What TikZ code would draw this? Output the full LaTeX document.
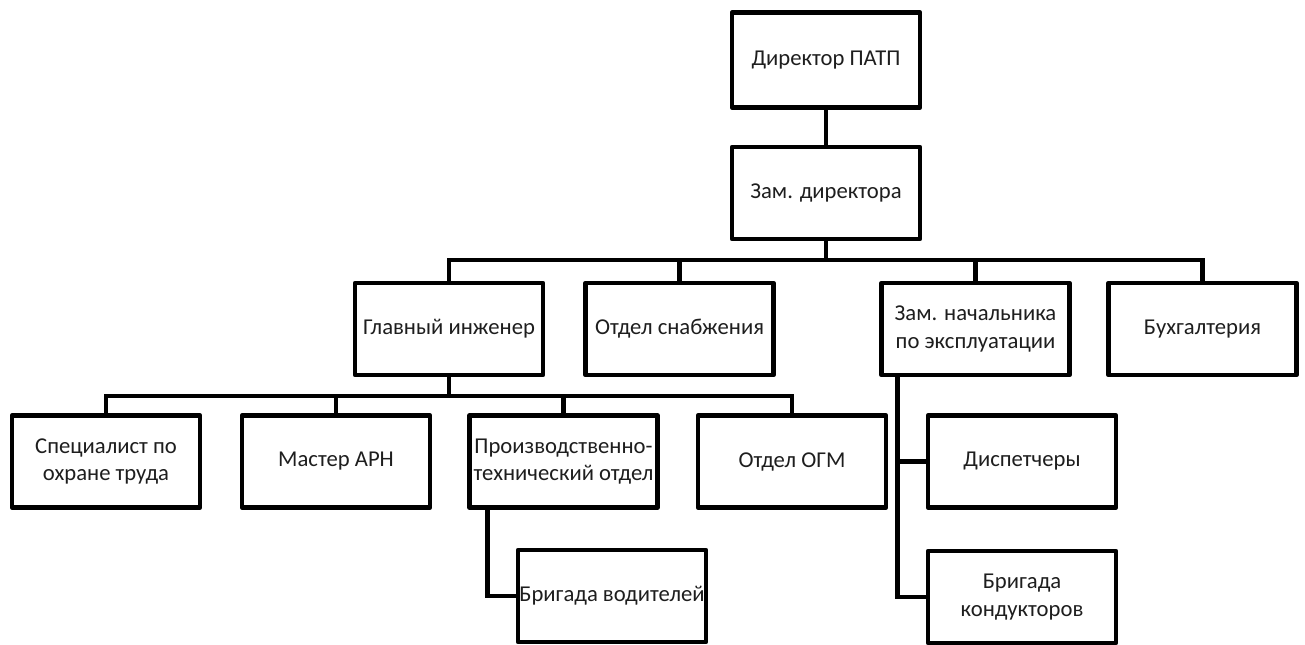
\documentclass[tikz,border=0pt]{standalone}
\usepackage{fontspec}
\setmainfont{Carlito}
\usetikzlibrary{positioning}
\definecolor{boxline}{RGB}{0,0,0}
\definecolor{boxtext}{RGB}{30,30,30}

\begin{document}
\begin{tikzpicture}[
    x=0.75pt, y=-0.75pt,
    every node/.style={font=\fontsize{17}{20.5}\selectfont, text=boxtext},
    unit/.style={rectangle, draw=boxline, line width=3.6pt, fill=white,
                 minimum width=141pt, minimum height=69pt, align=center,
                 inner sep=1pt, line join=round},
    link/.style={line width=3.6pt, color=boxline},
]
\useasboundingbox (0,0) rectangle (1305,644);

% === Top management ===
\node[unit, minimum height=71pt] (dir) at (826,60) {Директор ПАТП};
\node[unit] (zam) at (826,193) {Зам. директора};
\draw[link] (dir) -- (zam);

% === Second level ===
\node[unit] (glav)   at (449,329)    {Главный инженер};
\node[unit] (snab)   at (679.5,329)  {Отдел снабжения};
\node[unit] (zamexp) at (975.5,329)  {Зам. начальника\\по эксплуатации};
\node[unit] (buh)    at (1202.5,329) {Бухгалтерия};

\coordinate (bus1) at (826,260);
\draw[link] (zam) -- (bus1);
\foreach \n in {glav,snab,zamexp,buh}
    \draw[link] (\n.north) |- (bus1);

% === Under chief engineer ===
\node[unit] (spec)   at (106,461.5) {Специалист по\\охране труда};
\node[unit] (master) at (336,461.5) {Мастер АРН};
\node[unit] (pto)    at (563.5,461.5) {Производственно-\\технический отдел};
\node[unit] (ogm)    at (792,461.5) {Отдел ОГМ};

\coordinate (bus2) at (449,396);
\draw[link] (glav) -- (bus2);
\foreach \n in {spec,master,pto,ogm}
    \draw[link] (\n.north) |- (bus2);

% drivers under PTO
\node[unit] (brvod) at (612,596) {Бригада водителей};
\draw[link] (pto.south west) ++(20,0) |- (brvod.west);

% === Under operations deputy ===
\node[unit] (disp)   at (1022,461.5) {Диспетчеры};
\node[unit] (brkond) at (1022,597)   {Бригада\\кондукторов};
\draw[link] (zamexp.south west) ++(18,0) |- (disp.west);
\draw[link] (zamexp.south west) ++(18,0) |- (brkond.west);

\end{tikzpicture}
\end{document}
